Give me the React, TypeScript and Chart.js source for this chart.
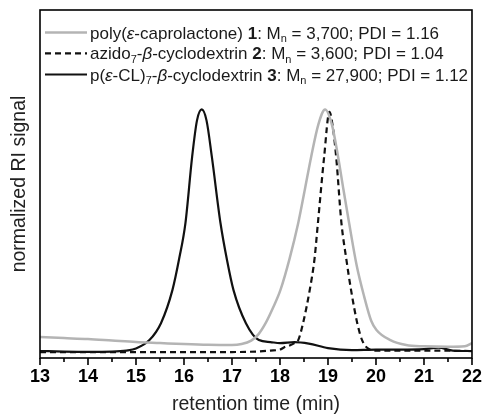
import { useEffect, useRef } from "react";
import { Chart, registerables } from "chart.js";
Chart.register(...registerables);

// ---- data ----
const xTickValues = [13, 14, 15, 16, 17, 18, 19, 20, 21, 22];

const pclTime = [13.0, 13.5, 14.0, 14.5, 15.0, 15.5, 16.0, 16.5, 17.0, 17.2, 17.4, 17.55, 17.7, 17.85, 18.01, 18.2, 18.38, 18.52, 18.65, 18.8, 18.94, 19.08, 19.21, 19.32, 19.44, 19.6, 19.75, 19.9, 20.01, 20.3, 20.63, 21.0, 21.5, 21.85, 22.0];
const pclSignal = [0.084, 0.08, 0.076, 0.07, 0.064, 0.06, 0.056, 0.053, 0.052, 0.056, 0.07, 0.095, 0.14, 0.2, 0.274, 0.4, 0.543, 0.68, 0.81, 0.94, 1.0, 0.94, 0.81, 0.68, 0.543, 0.37, 0.25, 0.15, 0.113, 0.072, 0.052, 0.047, 0.045, 0.047, 0.06];

const cdTime = [13.0, 14.0, 15.0, 16.0, 17.0, 17.5, 17.8, 18.0, 18.1, 18.2, 18.3, 18.38, 18.48, 18.62, 18.72, 18.79, 18.92, 19.03, 19.1, 19.17, 19.28, 19.38, 19.48, 19.61, 19.71, 19.85, 20.0, 21.0, 22.0];
const cdSignal = [0.024, 0.024, 0.024, 0.024, 0.024, 0.026, 0.03, 0.034, 0.044, 0.05, 0.06, 0.072, 0.14, 0.274, 0.4, 0.543, 0.81, 0.99, 0.93, 0.81, 0.543, 0.4, 0.274, 0.14, 0.072, 0.036, 0.03, 0.03, 0.028];

const starTime = [13.0, 13.5, 14.0, 14.5, 14.8, 15.0, 15.28, 15.52, 15.76, 15.9, 16.03, 16.17, 16.27, 16.37, 16.47, 16.58, 16.76, 16.9, 17.03, 17.29, 17.56, 17.8, 18.0, 18.3, 18.6, 19.0, 19.5, 20.0, 20.5, 21.0, 21.3, 21.6, 22.0];
const starSignal = [0.028, 0.026, 0.025, 0.026, 0.03, 0.038, 0.072, 0.14, 0.274, 0.4, 0.543, 0.81, 0.955, 1.0, 0.955, 0.81, 0.543, 0.39, 0.274, 0.14, 0.072, 0.064, 0.06, 0.064, 0.058, 0.04, 0.032, 0.034, 0.034, 0.036, 0.042, 0.03, 0.028];

type Seg = { t: string; s?: "i" | "b" | "sub" };
const legendRows: Seg[][] = [
  [{ t: "poly(" }, { t: "ε", s: "i" }, { t: "-caprolactone) " }, { t: "1", s: "b" }, { t: ": M" }, { t: "n", s: "sub" }, { t: " = 3,700; PDI = 1.16" }],
  [{ t: "azido" }, { t: "7", s: "sub" }, { t: "-" }, { t: "β", s: "i" }, { t: "-cyclodextrin " }, { t: "2", s: "b" }, { t: ": M" }, { t: "n", s: "sub" }, { t: " = 3,600; PDI = 1.04" }],
  [{ t: "p(" }, { t: "ε", s: "i" }, { t: "-CL)" }, { t: "7", s: "sub" }, { t: "-" }, { t: "β", s: "i" }, { t: "-cyclodextrin " }, { t: "3", s: "b" }, { t: ": M" }, { t: "n", s: "sub" }, { t: " = 27,900; PDI = 1.12" }],
];

const FONT = "'Liberation Sans', Arial, sans-serif";
const GRAY = "#b4b4b4";

const toPts = (xs: number[], ys: number[]) => xs.map((x, i) => ({ x, y: ys[i] }));

export default function App() {
  const ref = useRef<HTMLCanvasElement | null>(null);
  useEffect(() => {
    const canvas = ref.current!;
    const framePlugin = {
      id: "frame",
      afterDraw(chart: any) {
        const { ctx, chartArea } = chart;
        const xs = chart.scales.x;
        ctx.save();
        ctx.strokeStyle = "#000";
        ctx.lineWidth = 1.6;
        ctx.strokeRect(chartArea.left, chartArea.top, chartArea.right - chartArea.left, chartArea.bottom - chartArea.top);
        // ticks
        for (let v = 13; v <= 22.001; v += 0.5) {
          const px = xs.getPixelForValue(v);
          const major = Math.abs(v - Math.round(v)) < 1e-6;
          ctx.beginPath();
          ctx.moveTo(px, chartArea.bottom);
          ctx.lineTo(px, chartArea.bottom + (major ? 7 : 4));
          ctx.stroke();
        }
        // legend
        const rowY = [32.5, 53.3, 74.5];
        const styles = [
          { color: GRAY, dash: [] as number[], w: 2.5 },
          { color: "#111", dash: [6, 4], w: 2.2 },
          { color: "#111", dash: [] as number[], w: 2.2 },
        ];
        legendRows.forEach((row, i) => {
          const y = rowY[i];
          const st = styles[i];
          ctx.save();
          ctx.strokeStyle = st.color;
          ctx.lineWidth = st.w;
          ctx.setLineDash(st.dash);
          ctx.beginPath();
          ctx.moveTo(45, y);
          ctx.lineTo(87, y);
          ctx.stroke();
          ctx.restore();
          let x = 90;
          const base = y + 6;
          ctx.fillStyle = "#1a1a1a";
          ctx.textBaseline = "alphabetic";
          ctx.textAlign = "left";
          row.forEach((seg) => {
            let yy = base;
            if (seg.s === "i") ctx.font = `italic 17px ${FONT}`;
            else if (seg.s === "b") ctx.font = `bold 17px ${FONT}`;
            else if (seg.s === "sub") { ctx.font = `11px ${FONT}`; yy = base + 3.5; }
            else ctx.font = `17px ${FONT}`;
            ctx.fillText(seg.t, x, yy);
            x += ctx.measureText(seg.t).width;
          });
        });
        ctx.restore();
      },
    };
    const chart = new Chart(canvas, {
      type: "line",
      data: {
        datasets: [
          { label: "1", data: toPts(pclTime, pclSignal), borderColor: GRAY, borderWidth: 2.5, pointRadius: 0, cubicInterpolationMode: "monotone" },
          { label: "2", data: toPts(cdTime, cdSignal), borderColor: "#111", borderWidth: 2.2, borderDash: [6, 4], pointRadius: 0, cubicInterpolationMode: "monotone" },
          { label: "3", data: toPts(starTime, starSignal), borderColor: "#111", borderWidth: 2.2, pointRadius: 0, cubicInterpolationMode: "monotone" },
        ],
      },
      options: {
        animation: false,
        responsive: false,
        layout: { padding: { top: 10, right: 12, left: 0, bottom: 0 } },
        plugins: { legend: { display: false }, tooltip: { enabled: false } },
        scales: {
          x: {
            type: "linear",
            min: 13,
            max: 22,
            grid: { display: false, drawTicks: false },
            border: { display: false },
            afterBuildTicks: (s: any) => { s.ticks = xTickValues.map((v) => ({ value: v })); },
            ticks: { padding: 10, color: "#000", font: { family: FONT, size: 18, weight: "bold", lineHeight: 1 }, maxRotation: 0, autoSkip: false },
            title: { display: true, text: "retention time (min)", color: "#222", font: { family: FONT, size: 19.5, lineHeight: 1 }, padding: 0 },
            afterFit: (s: any) => { s.height = 56; },
          },
          y: {
            min: 0,
            max: 1.4,
            grid: { display: false, drawTicks: false },
            border: { display: false },
            ticks: { display: false },
            title: { display: true, text: "normalized RI signal", color: "#222", font: { family: FONT, size: 19.5, lineHeight: 1 }, padding: { top: 10, bottom: 0 } },
            afterFit: (s: any) => { s.width = 40; },
          },
        },
      } as any,
      plugins: [framePlugin],
    });
    return () => chart.destroy();
  }, []);
  return (
    <div style={{ position: "absolute", left: 0, top: 0, width: 492, height: 414, background: "#fff" }}>
      <canvas ref={ref} width={492} height={414} />
    </div>
  );
}
